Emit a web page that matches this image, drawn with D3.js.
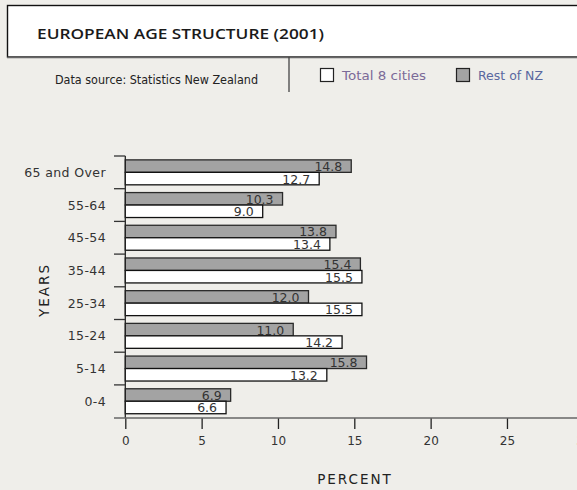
<!DOCTYPE html>
<html>
<head>
<meta charset="utf-8">
<script src="https://cdn.jsdelivr.net/npm/d3@7"></script>
<style>
  html, body { margin: 0; padding: 0; background: #efeeea; }
  svg { display: block; }
</style>
</head>
<body>
<svg id="chart" width="577" height="490"></svg>
<script>
const categories = ["65 and Over", "55-64", "45-54", "35-44", "25-34", "15-24", "5-14", "0-4"];
const seriesNames = ["Rest of NZ", "Total 8 cities"];
const restOfNZ = [14.8, 10.3, 13.8, 15.4, 12.0, 11.0, 15.8, 6.9];
const total8Cities = [12.7, 9.0, 13.4, 15.5, 15.5, 14.2, 13.2, 6.6];
const xTicks = [0, 5, 10, 15, 20, 25, 30];
const titleText = "EUROPEAN AGE STRUCTURE (2001)";
const sourceText = "Data source: Statistics New Zealand";

const svg = d3.select("#chart");
const W = 577, H = 490;
svg.append("rect").attr("width", W).attr("height", H).attr("fill", "#efeeea");

// Header box
svg.append("rect").attr("x", 7.5).attr("y", 5.5).attr("width", 620).attr("height", 51.5)
  .attr("fill", "#ffffff").attr("stroke", "#111").attr("stroke-width", 1.4);
svg.append("line").attr("x1", 7).attr("x2", 577).attr("y1", 57.5).attr("y2", 57.5)
  .attr("stroke", "#666").attr("stroke-width", 1.5);
svg.append("text").attr("x", 37).attr("y", 38.5).text(titleText)
  .attr("font-family", "Open Sans").attr("font-size", 14.5).attr("font-weight", 600)
  .attr("fill", "#1a1a1a").attr("textLength", 287).attr("lengthAdjust", "spacingAndGlyphs");

svg.append("text").attr("x", 55).attr("y", 83.5).text(sourceText)
  .attr("font-family", "DejaVu Sans").attr("font-size", 12).attr("fill", "#222")
  .attr("textLength", 203).attr("lengthAdjust", "spacingAndGlyphs");

svg.append("line").attr("x1", 289).attr("x2", 289).attr("y1", 57).attr("y2", 92)
  .attr("stroke", "#444").attr("stroke-width", 1.3);

// Legend
const legend = [
  {name: "Total 8 cities", fill: "#ffffff", x: 320, color: "#7b6a98", tl: 84},
  {name: "Rest of NZ", fill: "#a3a3a3", x: 456, color: "#5a68a0", tl: 65}
];
legend.forEach(d => {
  svg.append("rect").attr("x", d.x + 0.5).attr("y", 68.5).attr("width", 13).attr("height", 13)
    .attr("fill", d.fill).attr("stroke", "#222").attr("stroke-width", 1.2);
  svg.append("text").attr("x", d.x + 22).attr("y", 80).text(d.name)
    .attr("font-family", "DejaVu Sans").attr("font-size", 13).attr("fill", d.color)
    .attr("textLength", d.tl).attr("lengthAdjust", "spacingAndGlyphs");
});

// Scales
const x = d3.scaleLinear().domain([0, 30]).range([125.3, 583.3]);
const y = d3.scaleBand().domain(categories).range([156, 417.6]).padding(0);
const ySub = d3.scaleBand().domain(seriesNames).range([0, y.bandwidth()])
  .paddingInner(0).paddingOuter(0.31);

const data = categories.map((c, i) => ({cat: c, values: [
  {series: "Rest of NZ", v: restOfNZ[i]},
  {series: "Total 8 cities", v: total8Cities[i]}
]}));

const colors = {"Rest of NZ": "#a3a3a3", "Total 8 cities": "#ffffff"};
const strokes = {"Rest of NZ": "#2a2a2a", "Total 8 cities": "#111"};

const groups = svg.append("g").selectAll("g").data(data).join("g")
  .attr("transform", d => `translate(0,${y(d.cat)})`);

groups.selectAll("rect").data(d => d.values).join("rect")
  .attr("x", x(0))
  .attr("y", d => ySub(d.series))
  .attr("width", d => x(d.v) - x(0))
  .attr("height", ySub.bandwidth())
  .attr("fill", d => colors[d.series])
  .attr("stroke", d => strokes[d.series])
  .attr("stroke-width", 1.3);

groups.selectAll("text").data(d => d.values).join("text")
  .attr("x", d => x(d.v) - 9)
  .attr("y", d => ySub(d.series) + ySub.bandwidth() - 1.3)
  .attr("text-anchor", "end")
  .attr("font-family", "DejaVu Sans").attr("font-size", 12.5).attr("fill", "#333")
  .text(d => d.v.toFixed(1));

// Y axis
const yAxisG = svg.append("g");
yAxisG.append("line").attr("x1", 125.3).attr("x2", 125.3).attr("y1", 156).attr("y2", 418)
  .attr("stroke", "#222").attr("stroke-width", 1.3);
yAxisG.selectAll("line.tick").data(categories).join("line").attr("class", "tick")
  .attr("x1", 114).attr("x2", 125.3)
  .attr("y1", d => y(d)).attr("y2", d => y(d))
  .attr("stroke", "#333").attr("stroke-width", 1.3);
yAxisG.selectAll("text").data(categories).join("text")
  .attr("x", 106).attr("y", d => y(d) + y.bandwidth() / 2)
  .attr("text-anchor", "end").attr("dominant-baseline", "central")
  .attr("font-family", "DejaVu Sans").attr("font-size", 12.5).attr("fill", "#333")
  .attr("letter-spacing", 0.4)
  .text(d => d);

// X axis
const xAxis = d3.axisBottom(x).tickValues(xTicks).tickSize(11).tickPadding(7).tickFormat(d3.format("d"));
const xg = svg.append("g").attr("transform", "translate(0,418)").call(xAxis);
xg.select(".domain").remove();
xg.selectAll(".tick line").attr("stroke", "#222").attr("stroke-width", 1.3);
xg.selectAll(".tick text").attr("font-family", "DejaVu Sans").attr("font-size", 12).attr("fill", "#333");
svg.append("line").attr("x1", 114).attr("x2", 577).attr("y1", 418).attr("y2", 418)
  .attr("stroke", "#666").attr("stroke-width", 1.5);

// Axis titles
svg.append("text").attr("x", 355).attr("y", 484).attr("text-anchor", "middle")
  .attr("font-family", "DejaVu Sans").attr("font-size", 13.5).attr("fill", "#222")
  .attr("letter-spacing", 2).text("PERCENT");
svg.append("text").attr("transform", "translate(49,290) rotate(-90)").attr("text-anchor", "middle")
  .attr("font-family", "DejaVu Sans").attr("font-size", 13.5).attr("fill", "#222")
  .attr("letter-spacing", 2).text("YEARS");
</script>
</body>
</html>
